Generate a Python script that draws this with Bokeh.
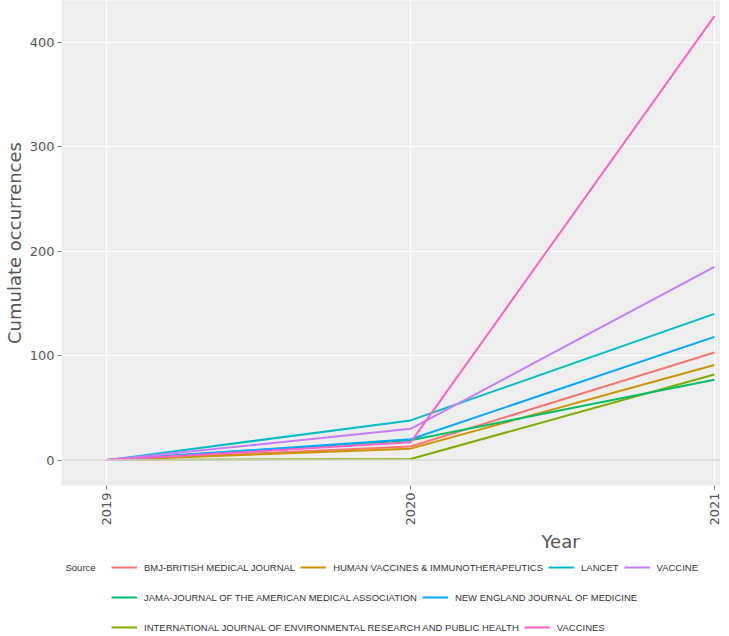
import math
from bokeh.plotting import figure
from bokeh.layouts import column
from bokeh.models import Legend, LegendItem, Title, Span, FixedTicker, Range1d, Label
from bokeh.embed import file_html
from bokeh.resources import INLINE

years = [2019, 2020, 2021]
sources = [
    "BMJ-BRITISH MEDICAL JOURNAL",
    "HUMAN VACCINES & IMMUNOTHERAPEUTICS",
    "INTERNATIONAL JOURNAL OF ENVIRONMENTAL RESEARCH AND PUBLIC HEALTH",
    "JAMA-JOURNAL OF THE AMERICAN MEDICAL ASSOCIATION",
    "LANCET",
    "NEW ENGLAND JOURNAL OF MEDICINE",
    "VACCINE",
    "VACCINES",
]
bmj = [0, 13, 103]
human_vaccines = [0, 11, 91]
intl_env = [0, 1, 82]
jama = [0, 19, 77]
lancet = [0, 38, 140]
nejm = [0, 20, 118]
vaccine = [0, 30, 185]
vaccines = [0, 17, 425]
series = [bmj, human_vaccines, intl_env, jama, lancet, nejm, vaccine, vaccines]
colors = ["#F8766D", "#CD9600", "#7CAE00", "#00BE67", "#00BFC4", "#00A9FF", "#C77CFF", "#FF61CC"]

W = 720
p = figure(width=W, height=551, output_backend="svg", toolbar_location=None,
           x_range=Range1d(2018.851, 2021.02), y_range=Range1d(-24.3, 440),
           min_border_left=55, min_border_right=0, min_border_top=0, min_border_bottom=0)
p.background_fill_color = "#eeeeee"
p.border_fill_color = "white"
p.outline_line_color = None
p.xgrid.grid_line_color = "white"
p.ygrid.grid_line_color = "white"

p.add_layout(Span(location=0, dimension="width", line_color="#d6d6d6", line_width=1.5))

for s, c in zip(series, colors):
    p.line(years, s, line_color=c, line_width=2)

font = "DejaVu Sans"
p.xaxis.ticker = FixedTicker(ticks=years)
p.yaxis.ticker = FixedTicker(ticks=[0, 100, 200, 300, 400])
p.xaxis.major_label_orientation = math.pi / 2
for ax in (p.xaxis[0], p.yaxis[0]):
    ax.axis_line_color = None
    ax.major_tick_line_color = "#777777"
    ax.major_tick_out = 4
    ax.major_tick_in = 0
    ax.minor_tick_line_color = None
    ax.major_label_text_font = font
    ax.major_label_text_font_size = "13px"
    ax.major_label_text_color = "#555555"
    ax.major_label_standoff = 3
p.yaxis.axis_label = "Cumulate occurrences"
p.yaxis.axis_label_text_font = font
p.yaxis.axis_label_text_font_size = "18px"
p.yaxis.axis_label_text_font_style = "normal"
p.yaxis.axis_label_text_color = "#555555"
p.yaxis.axis_label_standoff = 2

p.add_layout(Title(text="Year", align="left", offset=480, text_font=font,
                   text_font_size="18px", text_font_style="normal",
                   text_color="#555555", standoff=0), "below")

# legend figure
p2 = figure(width=W, height=84, output_backend="svg", toolbar_location=None,
            x_range=Range1d(0, 1), y_range=Range1d(0, 1),
            x_axis_location=None, y_axis_location=None,
            min_border_left=0, min_border_right=0, min_border_top=0, min_border_bottom=0)
p2.grid.visible = False
p2.outline_line_color = None
p2.background_fill_color = "white"

leg_renderers = [p2.line(x=[5, 6], y=[5, 6], line_color=c, line_width=2) for c in colors]

p2.add_layout(Label(x=4, y=63, x_units="screen", y_units="screen", text="Source",
                    text_font="Liberation Sans", text_font_size="9.5px",
                    text_color="#333333"))

rows = [[0, 1, 4, 6], [3, 5], [2, 7]]
bottoms = [60, 30, 0]
for row, b in zip(rows, bottoms):
    items = [LegendItem(label=sources[k], renderers=[leg_renderers[k]]) for k in row]
    leg = Legend(items=items, orientation="horizontal",
                 label_text_font="Liberation Sans", label_text_font_size="9.5px",
                 label_text_color="#333333", glyph_width=26, glyph_height=16,
                 label_standoff=7, spacing=5, padding=3, margin=0,
                 background_fill_alpha=0, border_line_color=None,
                 location=(50, b))
    p2.add_layout(leg, "center")

open("out.html", "w").write(file_html(column(p, p2), INLINE))
